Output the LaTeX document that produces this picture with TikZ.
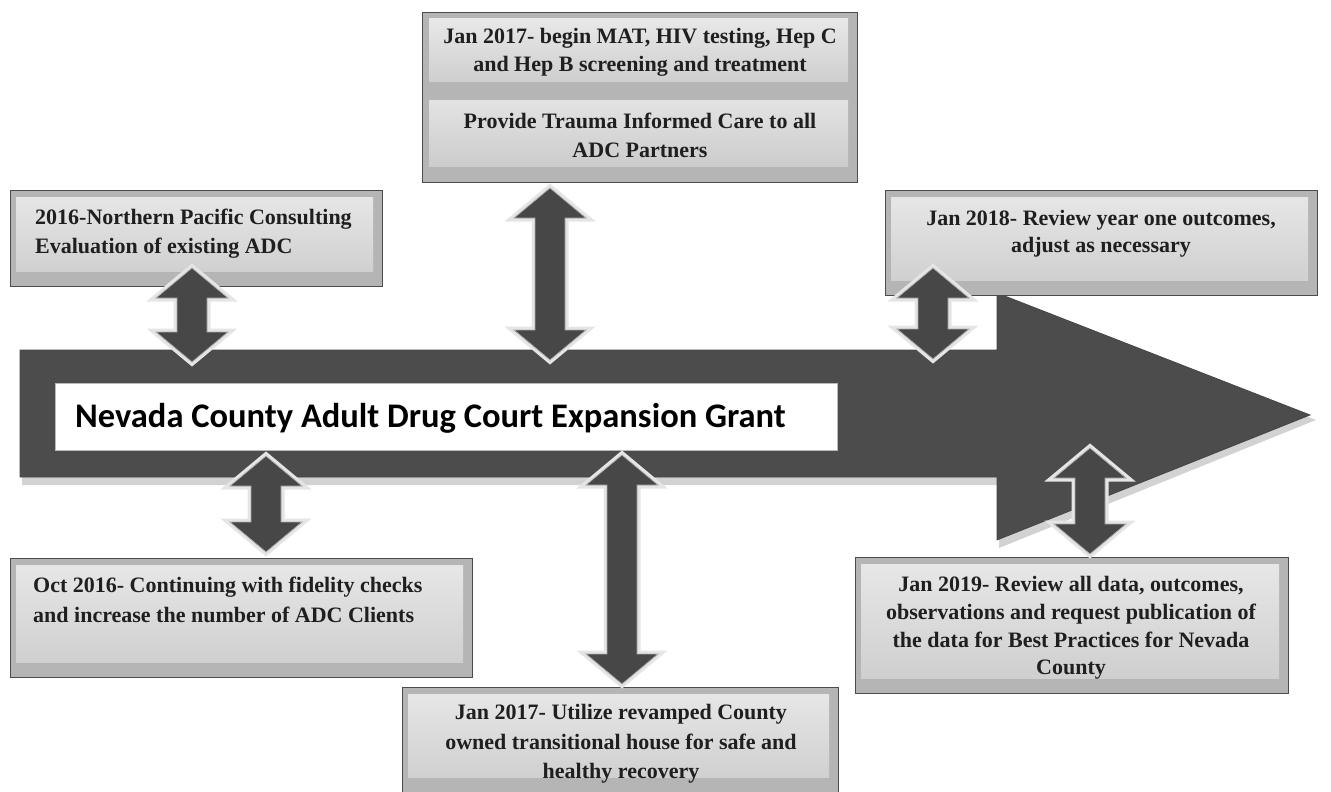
\documentclass[tikz,border=0pt]{standalone}
\usepackage{fontspec}
\setmainfont{Liberation Serif}
\newfontfamily\titlefont{Carlito}
\usetikzlibrary{calc}
\newcommand\mydblarr[2]{%
  \path[dbl] let \p1=(#1), \p2=(#2) in
   (\x1,\y1) -- ({\x1+36pt},{\y1-30pt}) -- ({\x1+15pt},{\y1-30pt}) --
   ({\x1+15pt},{\y2+30pt}) -- ({\x1+36pt},{\y2+30pt}) -- (\x2,\y2) --
   ({\x1-36pt},{\y2+30pt}) -- ({\x1-15pt},{\y2+30pt}) --
   ({\x1-15pt},{\y1-30pt}) -- ({\x1-36pt},{\y1-30pt}) -- cycle;}
\begin{document}
\begin{tikzpicture}[x=1pt,y=-1pt,
  boxfont/.style={font=\bfseries\fontsize{22}{28}\selectfont, text=black!88, inner sep=0pt},
  obox/.style={draw=gray!60!black, line width=0.8pt, fill=gray!58, inner sep=0pt},
  gbox/.style={obox, path picture={\fill[top color=gray!18, bottom color=gray!40]
      ([shift={(6pt,-7pt)}]path picture bounding box.north west) rectangle
      ([shift={(-9pt,15pt)}]path picture bounding box.south east);}},
  dbl/.style={fill=black!72, draw=gray!65, line width=0.8pt, line join=miter,
      preaction={draw=gray!20, line width=7pt, line join=miter}},
  bigarrow/.style={fill=black!70, draw=gray!55!black, line width=0.8pt}
]
\useasboundingbox (0,0) rectangle (1331,792);

% main timeline arrow
\fill[gray!35] (22,357) -- (999,357) -- (999,300) -- (1316,420) -- (999,548) -- (999,485) -- (22,485) -- cycle;
\path[bigarrow] (20,350) -- (997,350) -- (997,293) -- (1310,415) -- (997,540) -- (997,477) -- (20,477) -- cycle;
\node[draw=gray!55, line width=1pt, fill=white, minimum width=782pt, minimum height=67pt, inner sep=0pt] (band) at (446,416.5) {};
\node[anchor=base west, inner sep=0pt, font=\titlefont\bfseries\fontsize{34.5}{40}\selectfont] (title) at (75,427) {Nevada County Adult Drug Court Expansion Grant};

% boxes
\node[gbox, minimum width=372pt, minimum height=96pt] (b1) at (196,238) {};
\node[obox, minimum width=435pt, minimum height=170pt] (b2) at (639.5,97) {};
\fill[top color=gray!18, bottom color=gray!38] (429,19) rectangle (848,82);
\fill[top color=gray!22, bottom color=gray!40] (429,100) rectangle (848,166);
\node[gbox, minimum width=432pt, minimum height=105pt] (b3) at (1101,242.5) {};
\node[gbox, minimum width=462pt, minimum height=119pt] (b4) at (241,617.5) {};
\node[gbox, minimum width=433pt, minimum height=136pt] (b5) at (1071.5,625) {};
\node[gbox, minimum width=436pt, minimum height=105pt] (b6) at (620,739.5) {};

% texts
\node[boxfont, anchor=west, align=left, font=\bfseries\fontsize{22}{29}\selectfont] (t1) at (35,234)
  {2016-Northern Pacific Consulting\\Evaluation of existing ADC};
\node[boxfont, align=center] (t2a) at (640,52)
  {Jan 2017- begin MAT, HIV testing, Hep C\\and Hep B screening and treatment};
\node[boxfont, align=center, font=\bfseries\fontsize{22}{29}\selectfont] (t2b) at (640,135)
  {Provide Trauma Informed Care to all\\ADC Partners};
\node[boxfont, align=center, font=\bfseries\fontsize{22}{27}\selectfont] (t3) at (1101,233.5)
  {Jan 2018- Review year one outcomes,\\adjust as necessary};
\node[boxfont, anchor=west, align=left, font=\bfseries\fontsize{22}{30}\selectfont] (t4) at (33,599.5)
  {Oct 2016- Continuing with fidelity checks\\and increase the number of ADC Clients};
\node[boxfont, align=center, font=\bfseries\fontsize{22}{27.7}\selectfont] (t5) at (1071,628)
  {Jan 2019- Review all data, outcomes,\\observations and request publication of\\the data for Best Practices for Nevada\\County};
\node[boxfont, align=center, font=\bfseries\fontsize{22}{29.5}\selectfont] (t6) at (621,744)
  {Jan 2017- Utilize revamped County\\owned transitional house for safe and\\healthy recovery};

% double arrows
\coordinate (a1t) at (192,268); \coordinate (a1b) at (192,362);
\coordinate (a2t) at (550,188); \coordinate (a2b) at (550,360);
\coordinate (a3t) at (933,268); \coordinate (a3b) at (933,359);
\coordinate (a4t) at (1090,448); \coordinate (a4b) at (1090,554);
\coordinate (a5t) at (266,456); \coordinate (a5b) at (266,552);
\coordinate (a6t) at (622,455); \coordinate (a6b) at (622,684);
\mydblarr{a1t}{a1b}
\mydblarr{a2t}{a2b}
\mydblarr{a3t}{a3b}
\mydblarr{a4t}{a4b}
\mydblarr{a5t}{a5b}
\mydblarr{a6t}{a6b}
\end{tikzpicture}
\end{document}
